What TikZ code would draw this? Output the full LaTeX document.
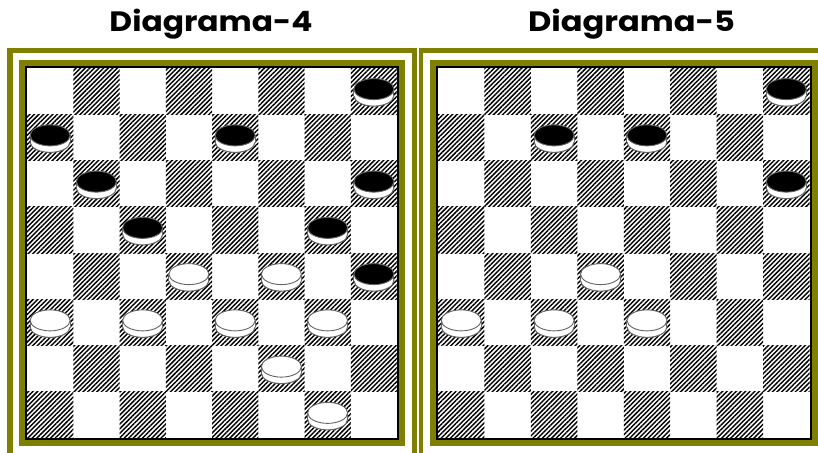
\documentclass[tikz,border=0pt]{standalone}
\usepackage{fontspec}
\setmainfont{Poppins}
\usetikzlibrary{patterns.meta}
\definecolor{olivefr}{RGB}{128,128,0}
\definecolor{pieceline}{RGB}{100,100,100}
\newcommand\drawpiece[3]{%
  \filldraw[fill=white,draw=pieceline,line width=1pt] (#1,#2+4.5) ellipse (20 and 10.5);
  \fill[white] (#1-20,#2-2) rectangle (#1+20,#2+4.5);
  \draw[pieceline,line width=1pt] (#1-20,#2-2) -- (#1-20,#2+4.5) (#1+20,#2-2) -- (#1+20,#2+4.5);
  \filldraw[fill=#3,draw=pieceline,line width=0.9pt] (#1,#2-2) ellipse (20 and 10.5);
}
\begin{document}
\begin{tikzpicture}[x=1pt,y=-1pt,
  dark/.style={pattern={Lines[angle=45,distance=3.25pt,line width=1.45pt]}},
  title/.style={anchor=base,inner sep=0pt,text=black}]
\useasboundingbox (0,0) rectangle (818,452);
\clip (0,0) rectangle (818,452);
\fill[white] (0,0) rectangle (818,452);
% titles
\node[title] (t4) at (211,32) {\resizebox{203pt}{\height}{\fontsize{28}{28}\selectfont\bfseries Diagrama-4}};
\node[title] (t5) at (631.5,32) {\resizebox{207pt}{\height}{\fontsize{28}{28}\selectfont\bfseries Diagrama-5}};
% outer frames
\draw[olivefr,line width=5.5pt] (10,50.5) rectangle (414.5,480);
\draw[olivefr,line width=4.5pt] (421,50.5) rectangle (850,480);
% inner frames, left
\fill[olivefr] (19,60) rectangle (405,446);
\fill[black] (25,66) rectangle (399,440);
\fill[white] (27,68) rectangle (397,438);
% inner frames, right
\fill[olivefr] (430,60) rectangle (830,446);
\fill[black] (436,66) rectangle (812,440);
\fill[white] (438,68) rectangle (809.5,438);
% dark squares
\foreach \r in {1,...,8}{
  \foreach \k in {0,...,3}{
    \pgfmathtruncatemacro\c{2*\k+1+mod(\r,2)}
    \path[dark] ({27+46.25*(\c-1)},{68+46.25*(\r-1)}) rectangle ++(46.25,46.25);
    \path[dark] ({438+46.44*(\c-1)},{68+46.25*(\r-1)}) rectangle ++(46.44,46.25);
  }
}
% left pieces
\foreach \c/\r in {8/1,1/2,5/2,2/3,8/3,3/4,7/4,8/5}{
  \pgfmathsetmacro\cx{27+46.25*(\c-0.5)}
  \pgfmathsetmacro\cy{68+46.25*(\r-0.5)}
  \drawpiece{\cx}{\cy}{black}
}
\foreach \c/\r in {4/5,6/5,1/6,3/6,5/6,7/6,6/7,7/8}{
  \pgfmathsetmacro\cx{27+46.25*(\c-0.5)}
  \pgfmathsetmacro\cy{68+46.25*(\r-0.5)}
  \drawpiece{\cx}{\cy}{white}
}
% right pieces
\foreach \c/\r in {8/1,3/2,5/2,8/3}{
  \pgfmathsetmacro\cx{438+46.44*(\c-0.5)}
  \pgfmathsetmacro\cy{68+46.25*(\r-0.5)}
  \drawpiece{\cx}{\cy}{black}
}
\foreach \c/\r in {4/5,1/6,3/6,5/6}{
  \pgfmathsetmacro\cx{438+46.44*(\c-0.5)}
  \pgfmathsetmacro\cy{68+46.25*(\r-0.5)}
  \drawpiece{\cx}{\cy}{white}
}
\end{tikzpicture}
\end{document}
